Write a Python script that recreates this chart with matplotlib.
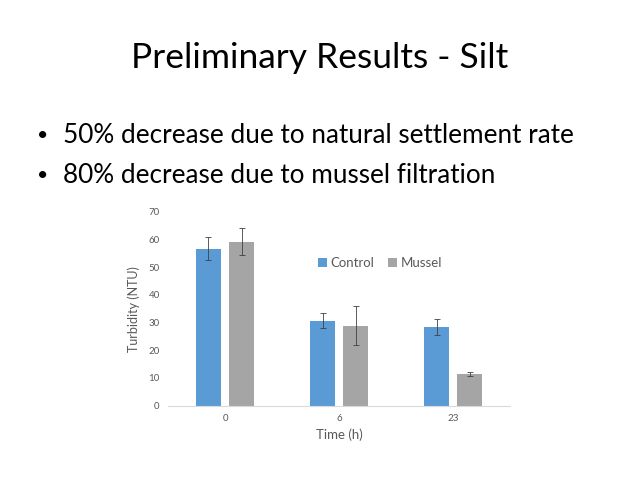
import numpy as np
import matplotlib
matplotlib.use("Agg")
import matplotlib.pyplot as plt

# data
times = ["0", "6", "23"]
control = [56.7, 30.7, 28.4]
control_err = [4.0, 2.7, 2.9]
mussel = [59.2, 28.9, 11.4]
mussel_err = [4.8, 7.2, 0.8]

title = "Preliminary Results - Silt"
bullets = ["50% decrease due to natural settlement rate",
           "80% decrease due to mussel filtration"]

plt.rcParams['font.family'] = ['Lato', 'DejaVu Sans']

fig = plt.figure(figsize=(6.4, 4.8), dpi=100)
fig.patch.set_facecolor("white")

# slide text
fig.text(0.5, 0.88, title, ha="center", va="center", fontsize=25.5, color="black")
for i, line in enumerate(bullets):
    y = 0.718 - i * 0.083
    fig.text(0.067, y, "\u2022", ha="center", va="center", fontsize=14, color="black")
    fig.text(0.098, y, line, ha="left", va="center", fontsize=18.8, color="black")

# chart
ax = fig.add_axes([0.2625, 0.155, 0.5345, 0.404])
x = np.arange(len(times))
w = 0.22
off = 0.145
ax.bar(x - off, control, w, yerr=control_err, color="#5B9BD5", label="Control",
       error_kw=dict(ecolor="#404040", elinewidth=0.6, capsize=2.5, capthick=0.6))
ax.bar(x + off, mussel, w, yerr=mussel_err, color="#A5A5A5", label="Mussel",
       error_kw=dict(ecolor="#404040", elinewidth=0.6, capsize=2.5, capthick=0.6))

ax.set_xlim(-0.5, 2.5)
ax.set_ylim(0, 70)
ax.set_yticks(range(0, 71, 10))
ax.set_xticks(x)
ax.set_xticklabels(times)
ax.tick_params(axis="both", length=0, labelsize=7, colors="#595959", pad=6)
for s in ["top", "right", "left"]:
    ax.spines[s].set_visible(False)
ax.spines["bottom"].set_color("#D9D9D9")
ax.spines["bottom"].set_linewidth(0.8)
ax.set_xlabel("Time (h)", fontsize=9.5, color="#595959", labelpad=4)
ax.set_ylabel("Turbidity (NTU)", fontsize=9, color="#595959", labelpad=6)

leg = ax.legend(loc="center", bbox_to_anchor=(0.62, 0.735), ncol=2, frameon=False,
                fontsize=9.5, handlelength=0.7, handleheight=0.7, handletextpad=0.3,
                columnspacing=1.0, labelcolor="#595959")

fig.savefig("out.png", dpi=100, facecolor="white")
